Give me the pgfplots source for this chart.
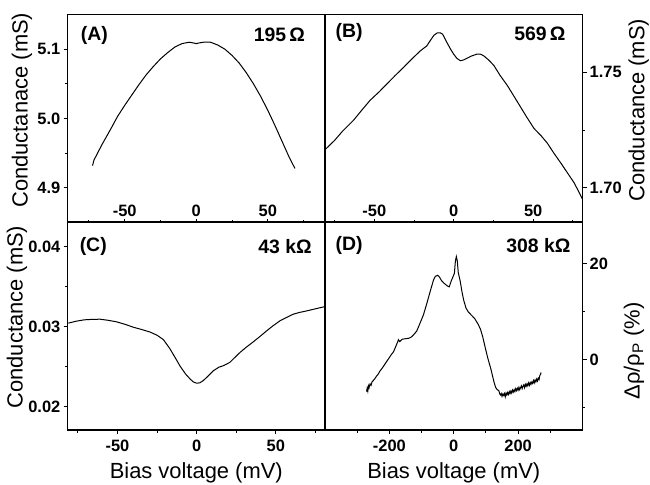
\documentclass[border=0pt]{standalone}
\usepackage{fontspec}
\setmainfont{Liberation Sans}
\usepackage{pgfplots}
\pgfplotsset{compat=1.18}
\pgfplotsset{
  base/.style={
    scale only axis, width=257.5bp, height=208bp,
    axis line style={line width=1.1bp},
    every tick/.style={black, line width=1bp},
    major tick length=4bp, minor tick length=2.5bp,
    tick label style={font=\fontsize{16.5}{16.5}\selectfont\bfseries, inner sep=3bp},
    /pgf/number format/assume math mode=true,
    label style={font=\fontsize{22}{22}\selectfont},
    tick align=outside,
  },
  curve/.style={black, line width=1bp, no marks},
}
\tikzset{plabel/.style={font=\fontsize{19.5}{19.5}\selectfont\bfseries}}
\begin{document}
\begin{tikzpicture}
\path[use as bounding box] (0bp,0bp) rectangle (650bp,-485bp);
% ---------- Panel A ----------
\begin{axis}[base, at={(67.5bp,-222.5bp)}, anchor=south west,
  xmin=-90, xmax=90, ymin=4.85, ymax=5.15,
  xtick={-50,0,50}, xtick pos=bottom, xtick style={draw=none},
  xticklabel style={anchor=south, yshift=6.5bp},
  ytick={4.9,5.0,5.1}, minor ytick={4.95,5.05}, ytick pos=left,
  yticklabel style={/pgf/number format/.cd, fixed, fixed zerofill, precision=1},
  ylabel={Conductanace (mS)},
  ylabel style={at={(axis description cs:-0.177,0.54)}, anchor=center},
]
\addplot[curve] coordinates {
(-72.5,4.932) (-71.5,4.940) (-70,4.946) (-66,4.962) (-60,4.984) (-55,5.003)
(-50,5.019) (-45,5.034) (-40,5.049) (-35,5.063) (-30,5.075) (-25,5.086)
(-20,5.095) (-15,5.103) (-10,5.108) (-5,5.110) (-2,5.109) (0,5.108)
(2,5.109) (5,5.110) (10,5.110) (15,5.106) (20,5.100) (25,5.091)
(30,5.080) (35,5.066) (40,5.050) (45,5.032) (50,5.012) (55,4.990)
(60,4.967) (65,4.944) (69,4.928)
};
\node[plabel, anchor=west] at (axis description cs:0.038,0.90) {(A)};
\node[plabel, anchor=east] at (axis description cs:0.936,0.90) {195\,Ω};
\end{axis}
\begin{axis}[base, at={(67.5bp,-222.5bp)}, anchor=south west,
  xmin=-90, xmax=90, ymin=4.85, ymax=5.15, hide y axis,
  tick align=inside, xtick pos=bottom,
  xtick={-50,0,50}, minor xtick={-75,-25,25,75}, xticklabels={},
]
\end{axis}
% ---------- Panel B ----------
\begin{axis}[base, at={(325bp,-222.5bp)}, anchor=south west,
  xmin=-81, xmax=81, ymin=1.685, ymax=1.775,
  xtick={-50,0,50}, xtick pos=bottom, xtick style={draw=none},
  xticklabel style={anchor=south, yshift=6.5bp},
  ytick={1.70,1.75}, minor ytick={1.725}, ytick pos=right, yticklabel pos=right,
  yticklabel style={/pgf/number format/.cd, fixed, fixed zerofill, precision=2},
  ylabel={Conductance (mS)},
  ylabel style={at={(axis description cs:1.218,0.54)}, anchor=center},
]
\addplot[curve] coordinates {
(-81,1.7165) (-75,1.7205) (-70,1.7245) (-63,1.7293) (-58,1.7335) (-52.6,1.7379)
(-47,1.7415) (-42,1.7450) (-37,1.7485) (-31.6,1.7521) (-26,1.7560) (-21,1.7593)
(-17,1.7614) (-14.5,1.7640) (-12.5,1.7660) (-10.5,1.7670) (-8.5,1.7671) (-7,1.7665)
(-5.5,1.7645) (-4,1.7625) (-2,1.7600) (0,1.7578) (2,1.7560) (4.2,1.7550)
(6,1.7553) (8.4,1.7561) (11,1.7570) (14.7,1.7579) (17,1.7578) (18.9,1.7571)
(22,1.7553) (25.3,1.7529) (29,1.7488) (33.7,1.7443) (38,1.7395) (42,1.7350)
(46,1.7305) (50.5,1.7257) (55,1.7225) (58.9,1.7193) (63,1.7150) (67.4,1.7107)
(71.5,1.7065) (75.8,1.7021) (78.5,1.6985) (81,1.6950)
};
\node[plabel, anchor=west] at (axis description cs:0.028,0.915) {(B)};
\node[plabel, anchor=east] at (axis description cs:0.948,0.905) {569\,Ω};
\end{axis}
\begin{axis}[base, at={(325bp,-222.5bp)}, anchor=south west,
  xmin=-81, xmax=81, ymin=1.685, ymax=1.775, hide y axis,
  tick align=inside, xtick pos=bottom,
  xtick={-50,0,50}, minor xtick={-75,-25,25,75}, xticklabels={},
]
\end{axis}
% ---------- Panel C ----------
\begin{axis}[base, at={(67.5bp,-430bp)}, anchor=south west,
  xmin=-81.5, xmax=81, ymin=0.0171, ymax=0.0431,
  xtick={-50,0,50}, minor xtick={-75,-25,25,75}, xtick pos=bottom,
  xticklabel style={yshift=-3bp},
  ytick={0.02,0.03,0.04}, minor ytick={0.025,0.035}, ytick pos=left,
  yticklabel style={/pgf/number format/.cd, fixed, fixed zerofill, precision=2},
  scaled y ticks=false,
  xlabel={Bias voltage (mV)},
  xlabel style={at={(axis description cs:0.5,-0.232)}, anchor=base},
  ylabel={Conductance (mS)},
  ylabel style={at={(axis description cs:-0.196,0.543)}, anchor=center},
]
\addplot[curve] coordinates {
(-81,0.03046) (-76,0.03070) (-71,0.03087) (-66,0.03093) (-61,0.03095) (-56,0.03082)
(-50.5,0.03062) (-45,0.03030) (-40,0.02995) (-35,0.02968) (-29.5,0.02935) (-25,0.02895)
(-21,0.02840) (-17,0.02730) (-14,0.02630) (-10.5,0.02510) (-7,0.02410) (-4,0.02345)
(-2,0.02310) (0,0.02295) (2,0.02300) (4.2,0.02328) (7,0.02380) (10.5,0.02450)
(14,0.02495) (17,0.02515) (21,0.02556) (24,0.02615) (27.4,0.02680) (31,0.02740)
(35.8,0.02813) (40,0.02880) (44.2,0.02950) (48,0.03010) (52.6,0.03075) (57,0.03120)
(61,0.03158) (65,0.03180) (69.5,0.03199) (75,0.03225) (81,0.03253)
};
\node[plabel, anchor=west] at (axis description cs:0.034,0.88) {(C)};
\node[plabel, anchor=east] at (axis description cs:0.962,0.88) {43 kΩ};
\end{axis}
% ---------- Panel D ----------
\begin{axis}[base, at={(325bp,-430bp)}, anchor=south west,
  xmin=-400, xmax=400, ymin=-14.6, ymax=28.7,
  xtick={-200,0,200}, minor xtick={-300,-100,100,300}, xtick pos=bottom,
  xticklabel style={yshift=-3bp},
  ytick={0,20}, minor ytick={-10,10}, ytick pos=right, yticklabel pos=right,
  xlabel={Bias voltage (mV)},
  xlabel style={at={(axis description cs:0.5,-0.232)}, anchor=base},
  ylabel={Δρ/ρ\textsubscript{P} (\%)},
  ylabel style={at={(axis description cs:1.2,0.38)}, anchor=center},
]
\addplot[curve] coordinates {
(-271,-6.6) (-269,-5.9) (-267,-6.5) (-265,-5.4) (-263,-5.8) (-260,-5.0)
(-257,-5.3) (-254,-4.6) (-250,-4.3) (-245,-3.9) (-240,-3.4) (-235,-3.0)
(-230,-2.4) (-220,-1.5) (-208,-0.3) (-195,1.0) (-187,1.7) (-180,2.8)
(-174,3.8) (-172,4.2) (-168,3.8) (-160,4.3) (-150,4.4) (-140,4.5)
(-133,4.7) (-125,5.2) (-115,6.0) (-105,7.6) (-94,9.4) (-83,11.9)
(-73,14.3) (-63,16.6) (-57,17.4) (-50,17.6) (-45,17.3) (-38,16.5)
(-31,16.0) (-20,15.4) (-14,15.2) (-8,16.4) (-3,17.2) (2,18.0)
(5,20.5) (8,21.5) (11,20.6) (14,18.2) (20,16.4) (26,14.0)
(31,12.4) (38,10.8) (45,10.0) (55,9.3) (65,8.6) (75,7.5)
(83,6.4) (90,4.8) (98,2.5) (106,0.3) (115,-1.8) (120,-3.2)
(125,-4.6) (130,-5.7) (135,-6.2) (140,-6.4) (142.5,-7.0) (145,-7.3)
(147.5,-7.0) (150,-7.6) (152.5,-7.1) (155,-7.4) (157.5,-7.0) (160,-7.7)
(162.5,-6.9) (165,-7.3) (167.5,-6.8) (170,-7.2) (172.5,-6.6) (175,-7.0)
(177.5,-6.5) (180,-6.9) (182.5,-6.3) (185,-6.7) (187.5,-6.2) (190,-6.6)
(192.5,-6.0) (195,-6.4) (197.5,-5.9) (200,-6.3) (202.5,-5.7) (205,-6.2)
(207.5,-5.8) (210,-5.4) (212.5,-6.0) (215,-5.5) (217.5,-5.2) (220,-5.8)
(222.5,-5.1) (225,-5.5) (227.5,-5.0) (230,-5.4) (232.5,-4.8) (235,-5.3)
(237.5,-4.7) (240,-5.1) (242.5,-4.6) (245,-4.9) (247.5,-4.3) (250,-4.8)
(252.5,-4.2) (255,-4.6) (257.5,-4.0) (260,-4.4) (262.5,-3.8) (265,-4.1)
(267.5,-3.2) (270,-3.0) (271,-2.6)
};
\node[plabel, anchor=west] at (axis description cs:0.028,0.885) {(D)};
\node[plabel, anchor=east] at (axis description cs:0.967,0.885) {308 kΩ};
\end{axis}
\end{tikzpicture}
\end{document}
